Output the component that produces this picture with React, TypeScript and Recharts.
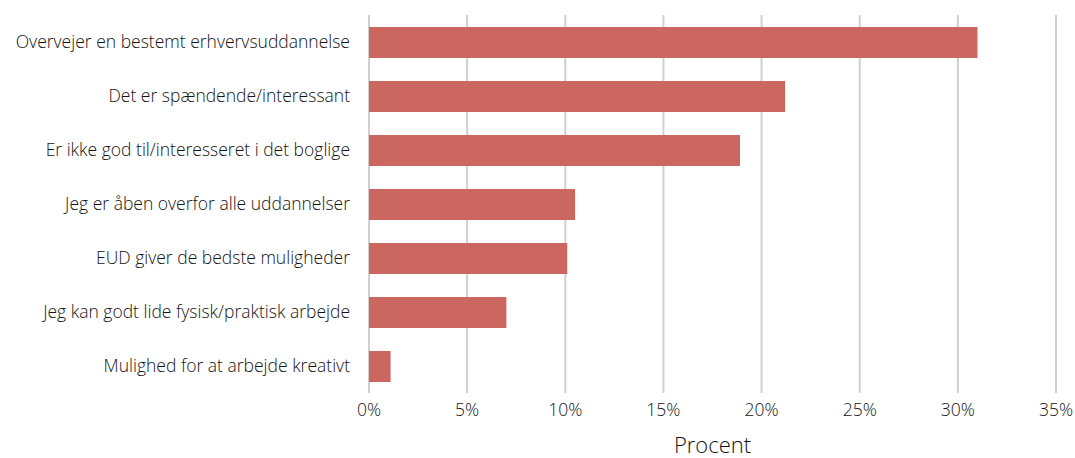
import React from 'react';
import { BarChart, Bar, XAxis, YAxis, CartesianGrid } from 'recharts';

const categories = [
  'Overvejer en bestemt erhvervsuddannelse',
  'Det er spændende/interessant',
  'Er ikke god til/interesseret i det boglige',
  'Jeg er åben overfor alle uddannelser',
  'EUD giver de bedste muligheder',
  'Jeg kan godt lide fysisk/praktisk arbejde',
  'Mulighed for at arbejde kreativt',
];

const percentValues = [31.0, 21.2, 18.9, 10.5, 10.1, 7.0, 1.1];

const xTicks = [0, 5, 10, 15, 20, 25, 30, 35];

const data = categories.map((name, i) => ({ name, value: percentValues[i] }));

const FONT = '"Open Sans", Lato, sans-serif';
const textStyle = { fill: '#141414', fontSize: 17.5, fontFamily: FONT, fontWeight: 300 };

export default function App() {
  return (
    <div style={{ position: 'fixed', left: 0, top: 0, width: 1075, height: 458, fontFamily: FONT, background: '#fff' }}>
      <BarChart
        width={1075}
        height={458}
        data={data}
        layout="vertical"
        margin={{ top: 15, right: 19, left: 0, bottom: 0 }}
      >
        <CartesianGrid horizontal={false} stroke="#d0d0d0" strokeWidth={2} />
        <XAxis
          type="number"
          domain={[0, 35]}
          ticks={xTicks}
          tickFormatter={(v) => `${v}%`}
          axisLine={false}
          tickLine={false}
          tickMargin={5}
          height={65}
          tick={textStyle}
          label={{
            value: 'Procent',
            position: 'insideBottom',
            offset: 5,
            style: { ...textStyle, fontSize: 22 },
          }}
        />
        <YAxis
          type="category"
          dataKey="name"
          width={369}
          axisLine={false}
          tickLine={false}
          tickMargin={13}
          interval={0}
          tick={textStyle}
        />
        <Bar dataKey="value" fill="#cc6660" barSize={31} isAnimationActive={false} />
      </BarChart>
    </div>
  );
}
